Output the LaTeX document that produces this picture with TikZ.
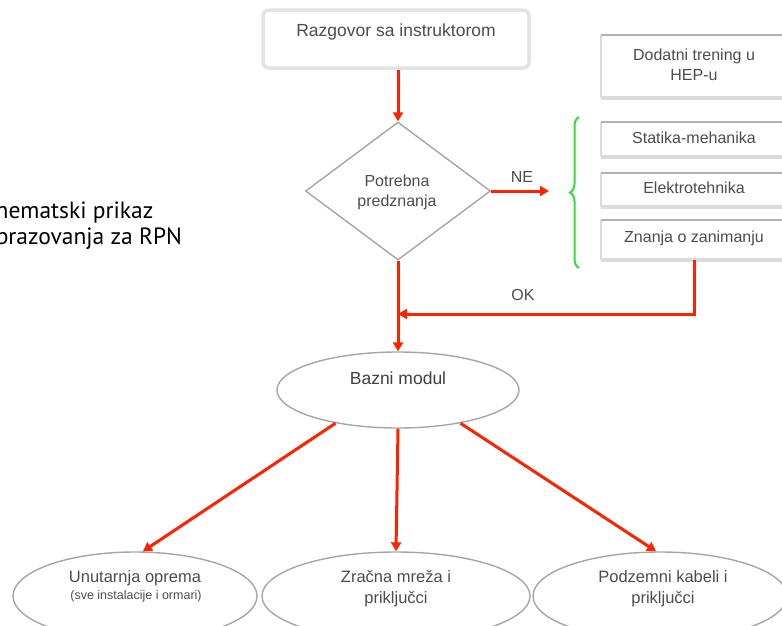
\documentclass[tikz,border=0pt]{standalone}
\usepackage{fontspec}
\setmainfont{Liberation Sans}
\newfontfamily\titlefont{PT Sans}
\usetikzlibrary{shapes.geometric,arrows.meta,decorations.pathreplacing}
\definecolor{arr}{HTML}{FF2200}
\definecolor{brc}{HTML}{33DD33}
\definecolor{txt}{HTML}{4D4D4D}
\begin{document}
\begin{tikzpicture}[x=1pt,y=-1pt,
  lbl/.style={font=\fontsize{16}{20}\selectfont, text=txt, align=center, inner sep=0pt},
  small/.style={font=\fontsize{12.5}{14}\selectfont, text=txt, inner sep=0pt},
  redarrow/.style={draw=arr, line width=3pt, -{Triangle[length=9pt,width=10pt]}},
  oval/.style={ellipse, draw=gray!70, line width=1.4pt, inner sep=0pt, fill=white},
  sidebox/.style={minimum width=186pt, inner sep=0pt, anchor=north west, fill=white},
  toptitle/.style={font=\titlefont\fontsize{23.5}{28}\selectfont, text=black, anchor=base west, inner sep=0pt}
]
\useasboundingbox (0,0) rectangle (782,625);
\clip (0,0) rectangle (782,625);
\fill[white] (0,0) rectangle (782,625);

% title (cropped at left edge)
\node[toptitle] (t1) at (-17,218) {Shematski prikaz};
\node[toptitle] (t2) at (-17,244) {obrazovanja za RPN};

% top box
\node[draw=gray!22, line width=3.5pt, rounded corners=6pt, minimum width=266pt, minimum height=58pt, inner sep=0pt] (razg) at (396,39) {};
\node[lbl, font=\fontsize{17.5}{20}\selectfont] (razgtxt) at (396,32) {Razgovor sa instruktorom};

% diamond
\node[diamond, draw=gray!70, line width=1.4pt, minimum width=185pt, minimum height=138pt, inner sep=0pt] (dia) at (398,191) {};
\node[lbl] (diatxt) at (397,192) {Potrebna\\predznanja};

% side boxes
\newcommand\mysidebox[4]{%
  \node[sidebox, minimum height={#3-#2}] (#1) at (601,#2) {};
  \draw[gray!28, line width=4pt] (#1.south west) -- (#1.south east);
  \draw[gray!28, line width=2pt] (#1.north west) -- (#1.south west);
  \draw[gray!60, line width=2.5pt] (#1.north west) -- (#1.north east);
  \node[lbl, font=\fontsize{16}{20}\selectfont] (#1txt) at (694,{(#2+#3)/2-2}) {#4};
}
\mysidebox{dod}{35}{98}{Dodatni trening u\\HEP-u}
\mysidebox{stat}{122}{157}{Statika-mehanika}
\mysidebox{elek}{173}{207}{Elektrotehnika}
\mysidebox{znan}{220}{260}{Znanja o zanimanju}

% brace
\draw[brc, line width=2pt, decorate, decoration={brace, amplitude=9pt}] (579,268) -- (579,117);

% NE arrow
\coordinate (neend) at (549,191);
\draw[redarrow] (dia.east) -- (neend);
\node[lbl] (ne) at (522,177) {NE};

% Bazni modul
\node[oval, minimum width=242pt, minimum height=76pt] (bazni) at (398,390) {};
\node[lbl, text=black!75, font=\fontsize{17.5}{20}\selectfont] (baznitxt) at (398,378) {Bazni modul};

% main arrows
\draw[redarrow] (razg.south -| dia.north) -- (dia.north);
\draw[redarrow] (dia.south) -- (bazni.north);
\coordinate (okc) at (694,314);
\draw[redarrow] (znan.south) |- (dia.south |- okc);
\node[lbl] (ok) at (523,295) {OK};

% bottom ellipses
\node[oval, minimum width=244pt, minimum height=88pt] (e1) at (135,596) {};
\node[oval, minimum width=268pt, minimum height=88pt] (e2) at (396,596) {};
\node[oval, minimum width=254pt, minimum height=88pt] (e3) at (660,596) {};
\node[lbl, font=\fontsize{16.5}{20}\selectfont] (e1a) at (135,578) {Unutarnja oprema};
\node[small] (e1b) at (136,596) {(sve instalacije i ormari)};
\node[lbl, font=\fontsize{16.5}{21}\selectfont] (e2a) at (396,589) {Zračna mreža i\\priključci};
\node[lbl, font=\fontsize{16.5}{21}\selectfont] (e3a) at (663,589) {Podzemni kabeli i\\priključci};

\draw[redarrow] (bazni.208) -- (e1.80);
\draw[redarrow] (bazni.south) -- (e2.north);
\draw[redarrow] (bazni.332) -- (e3.95);
\end{tikzpicture}
\end{document}
